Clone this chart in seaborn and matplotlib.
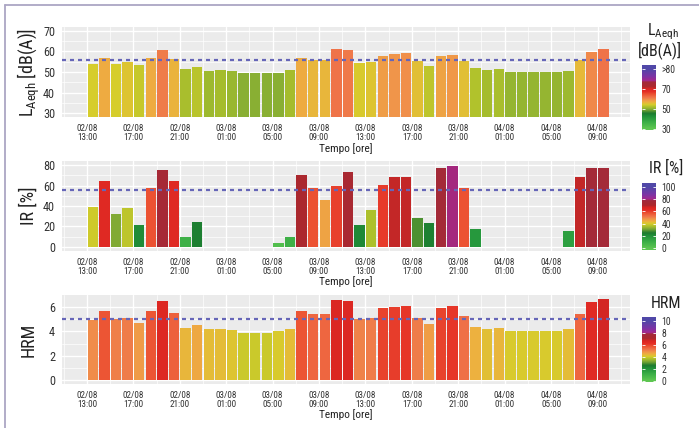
import numpy as np
import pandas as pd
import matplotlib
matplotlib.use("Agg")
import matplotlib.pyplot as plt
import seaborn as sns
from matplotlib import font_manager
from matplotlib.colors import LinearSegmentedColormap
from matplotlib.lines import Line2D

# ---------------- data ----------------
times = pd.date_range("2023-08-02 13:00", "2023-08-04 09:00", freq="h")
laeq = [54.0, 56.9, 54.0, 54.8, 53.2, 56.9, 60.5, 56.1, 51.5, 52.4,
        50.7, 51.1, 50.4, 49.6, 49.6, 49.6, 49.6, 51.1, 56.9, 56.0,
        56.0, 61.3, 60.9, 54.3, 54.8, 58.0, 58.6, 59.2, 55.1, 52.7,
        57.6, 58.4, 55.3, 52.0, 51.1, 51.4, 50.2, 50.2, 50.2, 50.2,
        50.2, 50.7, 55.6, 59.7, 61.3]
nan = np.nan
ir = [39.2, 64.4, 32.0, 37.6, 21.2, 57.2, 75.2, 64.4, 9.8, 23.9,
      nan, nan, nan, nan, nan, nan, 3.9, 9.8, 70.5, 57.2,
      45.8, 59.5, 72.9, 21.9, 36.0, 60.5, 68.0, 68.0, 28.4, 23.5,
      76.8, 79.4, 57.2, 18.0, nan, nan, nan, nan, nan, nan,
      nan, 15.7, 68.0, 76.8, 76.8]
hrm = [4.92, 5.7, 5.05, 5.1, 4.7, 5.7, 6.49, 5.5, 4.32, 4.5,
       4.24, 4.24, 4.14, 3.9, 3.9, 3.9, 4.03, 4.24, 5.7, 5.4,
       5.4, 6.6, 6.54, 5.0, 5.1, 5.9, 6.0, 6.08, 5.1, 4.65,
       5.9, 6.08, 5.27, 4.4, 4.2, 4.3, 4.03, 4.03, 4.03, 4.03,
       4.03, 4.24, 5.4, 6.4, 6.68]
thresholds = {"laeq": 56, "ir": 56, "hrm": 5}
tick_times = pd.date_range("2023-08-02 13:00", "2023-08-04 09:00", freq="4h")
tick_labels = [t.strftime("%d/%m\n%H:%M") for t in tick_times]

# ---------------- fonts ----------------
names = {f.name for f in font_manager.fontManager.ttflist}
dv_cond = any(f.name == "DejaVu Sans" and str(f.stretch) in ("condensed", "semi-condensed")
              for f in font_manager.fontManager.ttflist)
fam = None
for n in ["Liberation Sans Narrow", "Roboto Condensed"]:
    if n in names:
        fam = n
        break
sns.set_style("white")
if fam:
    plt.rcParams["font.family"] = [fam, "DejaVu Sans"]
elif dv_cond:
    plt.rcParams["font.family"] = ["DejaVu Sans"]
    plt.rcParams["font.stretch"] = "condensed"
    fam = "DejaVu Sans"
else:
    plt.rcParams["font.family"] = ["Lato", "DejaVu Sans"]
    fam = "Lato"
plt.rcParams["mathtext.fontset"] = "custom"
plt.rcParams["mathtext.rm"] = fam

TXT = "#333333"

# ---------------- colour scale ----------------
stops = [(0.00, "#5DC651"), (0.10, "#3DB047"), (0.20, "#21923A"), (0.25, "#1C7A2F"),
         (0.32, "#84AC34"), (0.36, "#ACC02C"), (0.40, "#D6CD2B"), (0.44, "#EDB03F"),
         (0.48, "#F0944A"), (0.52, "#EF7449"), (0.57, "#EC5433"), (0.62, "#E42D25"),
         (0.665, "#DA2622"), (0.70, "#AC282D"), (0.78, "#A32A3A"), (0.80, "#A4288E"),
         (0.88, "#7A35A6"), (1.00, "#5048A8")]
cmap = LinearSegmentedColormap.from_list("noise", stops)

W, H = 699, 428
fig = plt.figure(figsize=(W / 100, H / 100), dpi=100)
fig.patch.set_facecolor("white")

def fx(px):
    return px / W

def fy(py):
    return 1 - py / H

t0 = pd.Timestamp("2023-08-02 00:00")
hours = ((times - t0) / pd.Timedelta(hours=1)).to_numpy() + 0.5
tick_h = ((tick_times - t0) / pd.Timedelta(hours=1)).to_numpy()

panels = [
    dict(vals=laeq, lo=30, span=60, top=26.7, bot=117.3, ylim=(28, 72),
         yt=[30, 40, 50, 60, 70], ymin=[35, 45, 55, 65], thr=thresholds["laeq"],
         ylab=r"$\mathregular{L_{Aeqh}}$ [dB(A)]"),
    dict(vals=ir, lo=0, span=100, top=161, bot=251, ylim=(-4, 84),
         yt=[0, 20, 40, 60, 80], ymin=[10, 30, 50, 70], thr=thresholds["ir"],
         ylab="IR [%]"),
    dict(vals=hrm, lo=0, span=10, top=295, bot=384, ylim=(-0.33, 7.0),
         yt=[0, 2, 4, 6], ymin=[1, 3, 5], thr=thresholds["hrm"], ylab="HRM"),
]

for p in panels:
    ax = fig.add_axes([fx(62), fy(p["bot"]), fx(630 - 62), (p["bot"] - p["top"]) / H])
    df = pd.DataFrame({"h": hours, "v": p["vals"], "lab": [str(t) for t in times]}).dropna()
    pal = {l: cmap(np.clip((v - p["lo"]) / p["span"], 0, 1)) for l, v in zip(df["lab"], df["v"])}
    sns.barplot(data=df, x="h", y="v", hue="lab", palette=pal, native_scale=True,
                width=0.9, saturation=1, legend=False, ax=ax, linewidth=0, zorder=2)
    ax.set_facecolor("#EBEBEB")
    for s in ax.spines.values():
        s.set_visible(False)
    ax.set_xlim(10.85, 59.8)
    ax.set_ylim(*p["ylim"])
    ax.set_xticks(tick_h)
    ax.set_xticklabels(tick_labels, fontsize=6.6, color=TXT, linespacing=1.0)
    ax.set_xticks(np.concatenate([[11], tick_h + 2]), minor=True)
    ax.set_yticks(p["yt"])
    ax.set_yticklabels([str(v) for v in p["yt"]], fontsize=8.8, color=TXT)
    ax.set_yticks(p["ymin"], minor=True)
    ax.tick_params(which="major", length=3, width=0.7, color="#9A9A9A", pad=2)
    ax.tick_params(which="minor", length=0)
    ax.set_axisbelow(True)
    ax.grid(which="major", color="white", lw=1.0)
    ax.grid(which="minor", color="white", lw=0.5)
    ax.axhline(p["thr"], color="#6666B8", lw=1.6, ls=(0, (1.8, 1.8)), zorder=3)
    ax.set_xlabel("Tempo [ore]", fontsize=8.2, color="#222222")
    ax.xaxis.set_label_coords(0.5, -31 / (p["bot"] - p["top"]))
    ax.xaxis.label.set_va("center")
    ax.set_ylabel(p["ylab"], fontsize=13, color="#222222")
    ax.yaxis.set_label_coords((29 - 62) / (630 - 62), 0.5)
    ax.yaxis.label.set_va("center")

# ---------------- colour legends ----------------
legends = [
    dict(top=65, bot=130, ticks=[0.0, 1 / 3, 2 / 3, 1.0], labels=["30", "50", "70", ">80"]),
    dict(top=183, bot=250, ticks=[0, .2, .4, .6, .8, 1.0], labels=["0", "20", "40", "60", "80", "100"]),
    dict(top=317, bot=382, ticks=[0, .2, .4, .6, .8, 1.0], labels=["0", "2", "4", "6", "8", "10"]),
]
for lg in legends:
    cax = fig.add_axes([fx(642), fy(lg["bot"]), fx(14), (lg["bot"] - lg["top"]) / H])
    grad = np.clip(np.linspace(-0.025, 1.06, 300), 0, 1)[:, None]
    cax.imshow(grad, cmap=cmap, vmin=0, vmax=1, origin="lower", aspect="auto",
               extent=[0, 1, -0.025, 1.06])
    cax.set_xlim(0, 1)
    cax.set_ylim(-0.025, 1.06)
    cax.set_xticks([])
    cax.set_yticks(lg["ticks"])
    cax.set_yticklabels(lg["labels"], fontsize=7, color=TXT)
    cax.yaxis.tick_right()
    cax.tick_params(axis="y", direction="in", length=2.5, width=0.6, color="white",
                    left=True, right=True, pad=4)
    for s in cax.spines.values():
        s.set_visible(False)

fig.text(fx(663), fy(31.7), r"$\mathregular{L_{Aeqh}}$", ha="center", va="center",
         fontsize=11.5, color="#222222")
fig.text(fx(660), fy(50), "[dB(A)]", ha="center", va="center", fontsize=11.5, color="#222222")
fig.text(fx(666), fy(168), "IR [%]", ha="center", va="center", fontsize=11.5, color="#222222")
fig.text(fx(666), fy(303), "HRM", ha="center", va="center", fontsize=11.5, color="#222222")

# frame
fr = "#ABA6C4"
fig.add_artist(Line2D([fx(5), fx(5)], [0, fy(5)], transform=fig.transFigure, color=fr, lw=1.3))
fig.add_artist(Line2D([fx(5), 1], [fy(5), fy(5)], transform=fig.transFigure, color=fr, lw=1.3))

fig.savefig("out.png", dpi=100, facecolor="white")
